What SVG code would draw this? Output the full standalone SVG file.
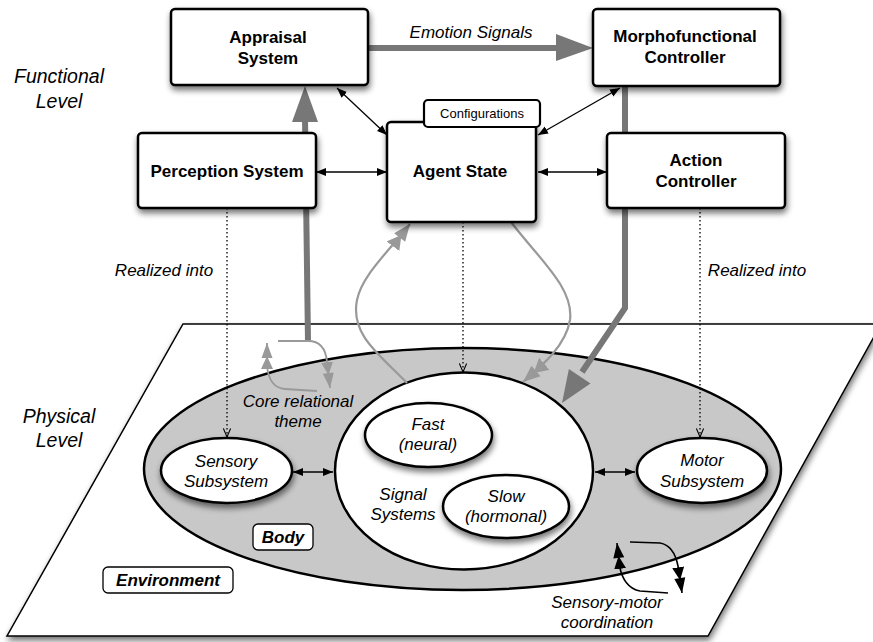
<svg xmlns="http://www.w3.org/2000/svg" width="873" height="642" viewBox="0 0 873 642">
<style>
.box{fill:#fff;stroke:#000;stroke-width:2.5}
.ell{fill:#fff;stroke:#000;stroke-width:2.5}
.bt{font-family:"Liberation Sans",Arial,sans-serif;font-weight:bold;font-size:17px;text-anchor:middle;fill:#000}
.it{font-family:"Liberation Sans",Arial,sans-serif;font-style:italic;font-size:17px;text-anchor:middle;fill:#000}
.lv{font-family:"Liberation Sans",Arial,sans-serif;font-style:italic;font-size:19.5px;text-anchor:middle;fill:#000}
.bi{font-family:"Liberation Sans",Arial,sans-serif;font-style:italic;font-weight:bold;font-size:17px;text-anchor:middle;fill:#000}
.sm{font-family:"Liberation Sans",Arial,sans-serif;font-size:13px;text-anchor:middle;fill:#000}
.thin{fill:none;stroke:#000;stroke-width:1.3}
.sm2{fill:none;stroke:#000;stroke-width:1.6}
.dot{fill:none;stroke:#000;stroke-width:1.3;stroke-dasharray:1.5 2.5}
.thick{fill:none;stroke:#777;stroke-width:6}
.gray{fill:none;stroke:#999;stroke-width:2.2}
.cr{fill:none;stroke:#999;stroke-width:1.8}
</style>
<defs>
<filter id="sh" x="-20%" y="-20%" width="150%" height="160%">
<feGaussianBlur in="SourceAlpha" stdDeviation="3"/>
<feOffset dx="1" dy="4" result="b"/>
<feComponentTransfer><feFuncA type="linear" slope="0.55"/></feComponentTransfer>
<feMerge><feMergeNode/><feMergeNode in="SourceGraphic"/></feMerge>
</filter>
<marker id="ab" viewBox="0 0 10 10" refX="10" refY="5" markerWidth="10" markerHeight="10" markerUnits="userSpaceOnUse" orient="auto-start-reverse">
<path d="M0,1 L10,5 L0,9 z" fill="#000"/>
</marker>
<marker id="av" viewBox="0 0 10 10" refX="9.5" refY="5" markerWidth="9" markerHeight="9" markerUnits="userSpaceOnUse" orient="auto">
<path d="M0,1 L9.5,5 L0,9" fill="none" stroke="#000" stroke-width="1.2"/>
</marker>
<marker id="ag" viewBox="0 0 28 16" refX="28" refY="8" markerWidth="28" markerHeight="16" markerUnits="userSpaceOnUse" orient="auto">
<path d="M0,0 L14,8 L0,16 z M11,1 L28,8 L11,15 z" fill="#999"/>
</marker>
<marker id="agk" viewBox="0 0 26 12" refX="26" refY="6" markerWidth="26" markerHeight="12" markerUnits="userSpaceOnUse" orient="auto">
<path d="M0,0 L13,6 L0,12 z M11,0.5 L26,6 L11,11.5 z" fill="#000"/>
</marker>
<marker id="agc" viewBox="0 0 26 12" refX="26" refY="6" markerWidth="26" markerHeight="12" markerUnits="userSpaceOnUse" orient="auto">
<path d="M0,0 L13,6 L0,12 z M11,0.5 L26,6 L11,11.5 z" fill="#999"/>
</marker>
</defs>
<rect width="873" height="642" fill="#fff"/>

<g id="plane">
<polygon points="183,324 881,324 708,636 7,636" fill="#fff" stroke="#000" stroke-width="1.5" filter="url(#sh)"/>
</g>
<g id="body">
<ellipse cx="462.5" cy="469" rx="318.5" ry="121" fill="#c8c8c8" stroke="#000" stroke-width="2.5"/>
</g>
<g id="signal-systems">
<ellipse cx="464" cy="471" rx="129" ry="98.5" class="ell"/>
<text class="it" x="403" y="500">Signal</text>
<text class="it" x="403" y="520">Systems</text>
</g>
<g id="fast">
<ellipse cx="428.5" cy="435" rx="63.5" ry="32" class="ell" filter="url(#sh)"/>
<text class="it" x="428" y="430">Fast</text>
<text class="it" x="428" y="450">(neural)</text>
</g>
<g id="slow">
<ellipse cx="506" cy="506.5" rx="63" ry="31.5" class="ell" filter="url(#sh)"/>
<text class="it" x="506" y="502">Slow</text>
<text class="it" x="506" y="522">(hormonal)</text>
</g>
<g id="sensory">
<ellipse cx="226.5" cy="470.5" rx="65.5" ry="32.5" class="ell" filter="url(#sh)"/>
<text class="it" x="226" y="467">Sensory</text>
<text class="it" x="226" y="487">Subsystem</text>
</g>
<g id="motor">
<ellipse cx="702" cy="470.5" rx="65" ry="32.5" class="ell" filter="url(#sh)"/>
<text class="it" x="702" y="466">Motor</text>
<text class="it" x="702" y="487">Subsystem</text>
</g>
<g id="body-label">
<rect x="253" y="524" width="60" height="26" rx="5" fill="#fff" stroke="#000" stroke-width="1.3"/>
<text class="bi" x="283" y="543">Body</text>
</g>
<g id="environment-label">
<rect x="103" y="567" width="130" height="26" rx="5" fill="#fff" stroke="#000" stroke-width="1.3"/>
<text class="bi" x="168" y="586">Environment</text>
</g>

<g id="connectors">
<line class="thick" x1="308" y1="342" x2="305" y2="118"/>
<polygon points="292,122 318,122 305,86" fill="#777"/>
<line class="thick" x1="368" y1="48" x2="560" y2="48"/>
<polygon points="556,34 556,61 593,48" fill="#777"/>
<polyline class="thick" points="625,86 625,308 582,372"/>
<polygon points="590.5,383.5 568.9,369.1 562,403" fill="#777"/>

<line class="thin" x1="337" y1="88" x2="387" y2="135" marker-start="url(#ab)" marker-end="url(#ab)"/>
<line class="thin" x1="316" y1="172" x2="387" y2="172" marker-start="url(#ab)" marker-end="url(#ab)"/>
<line class="thin" x1="538" y1="135" x2="620" y2="88" marker-start="url(#ab)" marker-end="url(#ab)"/>
<line class="thin" x1="538" y1="172" x2="607" y2="172" marker-start="url(#ab)" marker-end="url(#ab)"/>
<line class="thin" x1="293" y1="472" x2="333" y2="472" marker-start="url(#ab)" marker-end="url(#ab)"/>
<line class="thin" x1="595" y1="472" x2="635" y2="472" marker-start="url(#ab)" marker-end="url(#ab)"/>

<line class="dot" x1="227" y1="208" x2="227" y2="437" marker-end="url(#av)"/>
<line class="dot" x1="463" y1="222" x2="463" y2="372" marker-end="url(#av)"/>
<line class="dot" x1="700" y1="208" x2="700" y2="437" marker-end="url(#av)"/>

<path class="gray" d="M407,383 C380,355 350,335 357,300 C362,275 390,250 410,224" marker-end="url(#ag)"/>
<path class="gray" d="M511,222 C540,260 574,288 570,320 C566,345 543,365 523,382" marker-end="url(#ag)"/>

<path class="cr" d="M278,341 L308,341 C321,341 326,350 327,362 L330,388" marker-end="url(#agc)"/>
<path class="cr" d="M317,391 L285,389 C272,388 268,376 267,366 L267,343" marker-end="url(#agc)"/>

<path class="sm2" d="M630,542 L660,543 C672,545 676,556 678,566 L682,593" marker-end="url(#agk)"/>
<path class="sm2" d="M668,593 L640,591 C628,589 622,578 620,568 L617,543" marker-end="url(#agk)"/>
</g>

<g id="appraisal">
<rect x="171" y="9" width="197" height="76" rx="4" class="box" filter="url(#sh)"/>
<text class="bt" x="268" y="43">Appraisal</text>
<text class="bt" x="268" y="64">System</text>
</g>
<g id="morphofunctional">
<rect x="593" y="9" width="187" height="77" rx="4" class="box" filter="url(#sh)"/>
<text class="bt" x="685" y="42">Morphofunctional</text>
<text class="bt" x="685" y="63">Controller</text>
</g>
<g id="perception">
<rect x="138" y="133" width="178" height="75" rx="4" class="box" filter="url(#sh)"/>
<text class="bt" x="227" y="177">Perception System</text>
</g>
<g id="agent-state">
<rect x="387" y="122" width="149" height="100" rx="4" class="box" filter="url(#sh)"/>
<text class="bt" x="460" y="177">Agent State</text>
<rect x="424" y="100" width="116" height="27" rx="4" fill="#fff" stroke="#000" stroke-width="2.2"/>
<text class="sm" x="482" y="118">Configurations</text>
</g>
<g id="action">
<rect x="607" y="133" width="178" height="75" rx="4" class="box" filter="url(#sh)"/>
<text class="bt" x="696" y="166">Action</text>
<text class="bt" x="696" y="187">Controller</text>
</g>

<g id="labels">
<text class="it" x="471" y="38">Emotion Signals</text>
<text class="lv" x="59" y="83">Functional</text>
<text class="lv" x="59" y="108">Level</text>
<text class="lv" x="59" y="423">Physical</text>
<text class="lv" x="59" y="447">Level</text>
<text class="it" x="164" y="276">Realized into</text>
<text class="it" x="757" y="276">Realized into</text>
<text class="it" x="298" y="407">Core relational</text>
<text class="it" x="298" y="427">theme</text>
<text class="it" x="607" y="608">Sensory-motor</text>
<text class="it" x="607" y="628">coordination</text>
</g>
</svg>
